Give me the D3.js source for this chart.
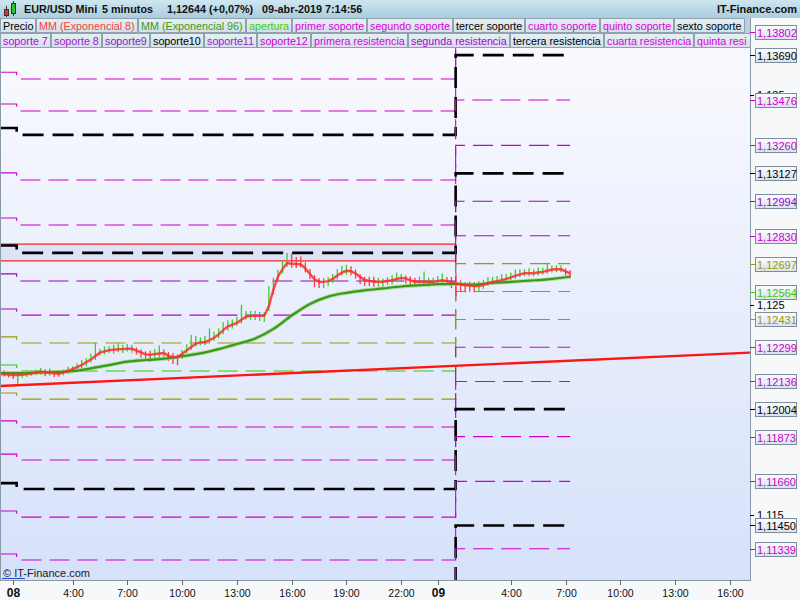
<!DOCTYPE html>
<html><head><meta charset="utf-8">
<script src="https://cdn.jsdelivr.net/npm/d3@7"></script>
<style>body{margin:0;background:#f6f8fa;}svg{display:block;font-family:"Liberation Sans",Arial,sans-serif;}</style>
</head><body><svg id="c" width="800" height="600"></svg>
<script>
// ---------------- DATA ----------------
const titleParts = ["EUR/USD Mini", "5 minutos", "1,12644 (+0,07%)", "09-abr-2019 7:14:56"];
const siteName = "IT-Finance.com";
const copyright = "© IT-Finance.com";

const legend1Names = ["Precio","MM (Exponencial 8)","MM (Exponencial 96)","apertura","primer soporte","segundo soporte","tercer soporte","cuarto soporte","quinto soporte","sexto soporte"];
const legend1Colors = ["#000000","#ff3c3c","#3c9a14","#44cc00","#dd00dd","#dd00dd","#000000","#dd00dd","#dd00dd","#000000"];
const legend2Names = ["soporte 7","soporte 8","soporte9","soporte10","soporte11","soporte12","primera resistencia","segunda resistencia","tercera resistencia","cuarta resistencia","quinta resistencia"];
const legend2Colors = ["#c000d8","#a020c8","#9020b8","#000000","#9a20c8","#cc00cc","#dd00dd","#b000d0","#000000","#dd00dd","#dd00dd"];

// time in hours from 08-abr 00:00; price bars every 15 minutes
const barStartHour = 0, barStepHours = 0.25;
const ema8 = [1.12171,1.12170,1.12169,1.12167,1.12167,1.12168,1.12171,1.12173,1.12179,1.12182,
1.12180,1.12178,1.12175,1.12172,1.12179,1.12187,1.12195,1.12204,1.12214,1.12227,
1.12240,1.12257,1.12273,1.12279,1.12285,1.12287,1.12289,1.12290,1.12292,1.12292,
1.12283,1.12274,1.12265,1.12263,1.12266,1.12269,1.12271,1.12258,1.12252,1.12251,
1.12267,1.12284,1.12300,1.12316,1.12322,1.12324,1.12332,1.12344,1.12360,1.12380,
1.12398,1.12407,1.12415,1.12430,1.12444,1.12448,1.12448,1.12448,1.12448,1.12495,
1.12573,1.12635,1.12671,1.12700,1.12696,1.12695,1.12693,1.12674,1.12648,1.12623,
1.12610,1.12610,1.12614,1.12624,1.12641,1.12654,1.12663,1.12661,1.12650,1.12633,
1.12620,1.12615,1.12611,1.12611,1.12611,1.12614,1.12618,1.12624,1.12629,1.12626,
1.12617,1.12611,1.12611,1.12611,1.12611,1.12611,1.12614,1.12618,1.12614,1.12609,
1.12603,1.12598,1.12594,1.12592,1.12590,1.12590,1.12596,1.12604,1.12610,1.12614,
1.12618,1.12624,1.12631,1.12639,1.12646,1.12651,1.12651,1.12651,1.12655,1.12658,
1.12663,1.12669,1.12670,1.12670,1.12660,1.12651];
// bar extent above / below in points (0.00001)
const upPts = [19,19,14,10,10,14,10,14,14,19, 14,19,10,14,14,19,14,19,24,19,
29,62,19,24,19,24,29,19,24,19, 14,14,14,19,24,38,19,19,19,14,
19,29,57,38,24,29,57,29,29,38, 29,24,29,71,29,24,24,19,19,95,
57,33,38,48,48,33,38,29,24,19, 19,19,19,24,29,33,29,24,19,14,
14,19,24,19,14,19,24,29,19,14, 19,19,24,48,19,19,24,33,19,24,
48,19,14,19,19,24,24,29,24,24, 29,24,24,29,24,19,24,19,24,19,
38,19,19,19,14,14];
const downPts = [14,10,14,19,48,14,14,10,14,14, 19,14,19,14,14,14,14,14,14,19,
14,19,14,14,14,19,14,19,14,19, 19,24,29,33,24,24,24,24,33,38,
24,14,14,14,14,14,14,14,19,19, 19,19,14,19,14,19,19,24,29,24,
24,24,19,19,19,19,14,19,24,38, 29,29,24,19,19,14,19,19,24,33,
29,24,24,24,24,19,19,14,19,24, 24,19,19,19,24,19,19,19,19,29,
62,33,33,29,29,24,19,14,14,14, 14,14,14,14,14,14,14,14,14,14,
14,14,14,14,19,24];
// EMA 96 hourly (hours 0..31) plus last bar 31.25
const ema96Hours = [0,1,2,3,4,5,6,7,8,9,10,11,12,13,14,15,16,17,18,19,20,21,22,23,24,25,26,27,28,29,30,31,31.25];
const ema96 = [1.12176,1.12176,1.12178,1.12180,1.12185,1.12198,1.12214,1.12230,1.12238,1.12244,
1.12256,1.12270,1.12290,1.12314,1.12340,1.12386,1.12450,1.12505,1.12540,1.12558,
1.12570,1.12579,1.12588,1.12594,1.12599,1.12600,1.12597,1.12605,1.12610,1.12616,
1.12622,1.12632,1.12635];

// support / resistance levels: values for 07, 08 and 09 April
const levelChangeHours = [0, 0.94, 24.98, 31.25];
const levelColors = ["#cc00cc","#cc00cc","#000000","#cc00cc","#cc00cc","#000000","#9900cc","#b000cc","#999900","#33cc00","#999900","#cc00cc","#cc00cc","#000000","#cc00cc","#cc00cc","#000000","#cc00cc"];
const labelColors = ["#cc00cc","#cc00cc","#000000","#cc00cc","#cc00cc","#000000","#9900cc","#cc00cc","#999900","#33cc00","#999900","#cc00cc","#cc00cc","#000000","#cc00cc","#cc00cc","#000000","#cc00cc"];
const levelDay7 = [1.13608,1.13457,1.13343,1.13129,1.12914,1.12783,1.12648,1.12481,1.12348,1.12214,1.12081,1.11948,1.11790,1.11652,1.11519,1.11314,1.11095,1.10986];
const levelDay8 = [1.13576,1.13424,1.13310,1.13095,1.12881,1.12748,1.12614,1.12452,1.12319,1.12186,1.12052,1.11919,1.11762,1.11624,1.11490,1.11286,1.11067,1.10957];
const levelDay9 = [1.13955,1.13802,1.13690,1.13476,1.13260,1.13127,1.12994,1.12830,1.12697,1.12564,1.12431,1.12299,1.12136,1.12004,1.11873,1.11660,1.11450,1.11339];

// previous-day range band and trend line
const bandHours = [0, 24.98];
const bandValues = [1.12710, 1.12790];
const trendHours = [0, 41.1];
const trendValues = [1.12114, 1.12273];

// axes
const xTickHours = [0.72, 4, 7, 10, 13, 16, 19, 22, 24, 28, 31, 34, 37, 40];
const xTickLabels = ["08","4:00","7:00","10:00","13:00","16:00","19:00","22:00","09","4:00","7:00","10:00","13:00","16:00"];
const xTickBold = [true,false,false,false,false,false,false,false,true,false,false,false,false,false];
const yTickValues = [1.115, 1.125, 1.135];

// ---------------- DRAW ----------------
const W = 800, H = 600;
const P = {l: 0, r: 750, t: 48, b: 580};
const x = d3.scaleLinear().domain([0, 41.1]).range([-0.5, 750]);
const y = d3.scaleLinear().domain([1.115, 1.135]).range([515, 95]);
const fmt5 = v => d3.format(".5f")(v).replace(".", ",");
const fmt3 = v => d3.format(".3f")(v).replace(".", ",");

const svg = d3.select("#c");
const defs = svg.append("defs");
function lg(id, stops) {
  const g = defs.append("linearGradient").attr("id", id).attr("x1", 0).attr("y1", 0).attr("x2", 0).attr("y2", 1);
  stops.forEach(([o, c]) => g.append("stop").attr("offset", o).attr("stop-color", c));
}
lg("gHead", [[0, "#cfe6f0"], [1, "#a9cddf"]]);
lg("gPlot", [[0, "#f9fafe"], [1, "#d6e1fa"]]);
lg("gChip", [[0, "#e6eff5"], [1, "#d2e0e9"]]);
lg("gBox", [[0, "#fbfcff"], [1, "#d8e1ee"]]);
defs.append("clipPath").attr("id", "clip").append("rect")
  .attr("x", P.l).attr("y", P.t).attr("width", P.r - P.l).attr("height", P.b - P.t);
defs.append("clipPath").attr("id", "legClip").append("rect")
  .attr("x", 0).attr("y", 18).attr("width", 750).attr("height", 31);

svg.append("rect").attr("width", W).attr("height", H).attr("fill", "#f6f8fa");
svg.append("rect").attr("x", P.l).attr("y", P.t).attr("width", P.r - P.l).attr("height", P.b - P.t).attr("fill", "url(#gPlot)");

const plotG = svg.append("g").attr("clip-path", "url(#clip)");

// band
plotG.append("rect")
  .attr("x", x(bandHours[0])).attr("y", y(bandValues[1]))
  .attr("width", x(bandHours[1]) - x(bandHours[0]))
  .attr("height", y(bandValues[0]) - y(bandValues[1]))
  .attr("fill", "#dbe3f8").attr("stroke", "#ff1a1a").attr("stroke-width", 1.2);

// levels
const stepLine = d3.line().x(d => x(d.h)).y(d => y(d.v)).curve(d3.curveStepAfter);
levelDay9.forEach((v9, i) => {
  const pts = [
    {h: levelChangeHours[0], v: levelDay7[i]},
    {h: levelChangeHours[1], v: levelDay8[i]},
    {h: levelChangeHours[2], v: v9},
    {h: levelChangeHours[3], v: v9}
  ];
  const thick = levelColors[i] === "#000000";
  plotG.append("path").attr("d", stepLine(pts)).attr("fill", "none")
    .attr("stroke", levelColors[i])
    .attr("stroke-width", thick ? 2.6 : 1.1)
    .attr("stroke-dasharray", thick ? "21,9" : "20,8");
});

// price bars
const barData = ema8.map((c, i) => ({
  h: barStartHour + i * barStepHours,
  hi: c + upPts[i] * 1e-5,
  lo: c - downPts[i] * 1e-5,
  up: i === 0 ? true : c >= ema8[i - 1]
}));
plotG.selectAll("line.bar").data(barData).enter().append("line")
  .attr("x1", d => x(d.h)).attr("x2", d => x(d.h))
  .attr("y1", d => y(d.hi)).attr("y2", d => y(d.lo))
  .attr("stroke", d => d.up ? "#3ccc2a" : "#ff3a3a").attr("stroke-width", 1.3);

// EMA 96
const e96 = ema96.map((v, i) => ({h: ema96Hours[i], v}));
const lineMono = d3.line().x(d => x(d.h)).y(d => y(d.v)).curve(d3.curveMonotoneX);
plotG.append("path").attr("d", lineMono(e96)).attr("fill", "none").attr("stroke", "#8fd070").attr("stroke-width", 4).attr("opacity", 0.6);
plotG.append("path").attr("d", lineMono(e96)).attr("fill", "none").attr("stroke", "#3a9a18").attr("stroke-width", 2.2);

// EMA 8
const e8 = ema8.map((v, i) => ({h: barStartHour + i * barStepHours, v}));
const lineLin = d3.line().x(d => x(d.h)).y(d => y(d.v));
plotG.append("path").attr("d", lineLin(e8)).attr("fill", "none").attr("stroke", "#ff2a2a").attr("stroke-width", 2.4).attr("opacity", 0.85);

// trend line
plotG.append("path").attr("d", lineLin(trendHours.map((h, i) => ({h, v: trendValues[i]}))))
  .attr("fill", "none").attr("stroke", "#ff1414").attr("stroke-width", 2.4);

// copyright
svg.append("text").attr("x", 3).attr("y", 577).attr("font-size", 11).attr("fill", "#222").text(copyright);
svg.append("line").attr("x1", 2).attr("x2", 25).attr("y1", 578.5).attr("y2", 578.5).attr("stroke", "#2244cc").attr("stroke-width", 1);

// borders
svg.append("line").attr("x1", 0.5).attr("x2", 0.5).attr("y1", P.t).attr("y2", P.b).attr("stroke", "#8898a6");
svg.append("line").attr("x1", 750.5).attr("x2", 750.5).attr("y1", 18).attr("y2", P.b + 0.5).attr("stroke", "#8898a6");
svg.append("line").attr("x1", 0).attr("x2", 751).attr("y1", P.b + 0.5).attr("y2", P.b + 0.5).attr("stroke", "#8898a6");

// x axis
xTickHours.forEach((h, i) => {
  const xx = Math.round(x(h)) + 0.5;
  svg.append("line").attr("x1", xx).attr("x2", xx).attr("y1", P.b).attr("y2", P.b + 5).attr("stroke", "#666");
  svg.append("text").attr("x", xx).attr("y", 597).attr("text-anchor", "middle")
    .attr("font-size", xTickBold[i] ? 12 : 10.5).attr("font-weight", xTickBold[i] ? "bold" : "normal")
    .attr("fill", "#111").text(xTickLabels[i]);
});

// y axis plain ticks
yTickValues.forEach(v => {
  const yy = Math.round(y(v)) + 0.5;
  svg.append("line").attr("x1", 750).attr("x2", 754).attr("y1", yy).attr("y2", yy).attr("stroke", "#000");
  svg.append("text").attr("x", 757).attr("y", yy + 3.5).attr("font-size", 11).attr("fill", "#000").text(fmt3(v));
});

// y axis value boxes for current levels
levelDay9.forEach((v, i) => {
  const yy = y(v);
  if (yy < 20 || yy > 590) return;
  const yr = Math.round(yy) + 0.5;
  svg.append("line").attr("x1", 750).attr("x2", 755).attr("y1", yr).attr("y2", yr).attr("stroke", labelColors[i]);
  svg.append("rect").attr("x", 755.5).attr("y", Math.round(yy) - 6.5).attr("width", 41).attr("height", 14)
    .attr("fill", "url(#gBox)").attr("stroke", "#7c8e9c");
  svg.append("text").attr("x", 757).attr("y", Math.round(yy) + 4.5).attr("font-size", 11).attr("fill", labelColors[i]).text(fmt5(v));
});

// header
svg.append("rect").attr("x", 0).attr("y", 0).attr("width", W).attr("height", 18).attr("fill", "url(#gHead)");
const icon = svg.append("g");
icon.append("line").attr("x1", 6.5).attr("x2", 6.5).attr("y1", 6).attr("y2", 17).attr("stroke", "#333");
icon.append("rect").attr("x", 4.5).attr("y", 9.5).attr("width", 4).attr("height", 6).attr("fill", "#e83030").attr("stroke", "#333");
icon.append("line").attr("x1", 13.5).attr("x2", 13.5).attr("y1", 1).attr("y2", 16).attr("stroke", "#333");
icon.append("rect").attr("x", 11.5).attr("y", 3.5).attr("width", 4).attr("height", 10).attr("fill", "#30c030").attr("stroke", "#333");
const titleX = [24, 102, 167, 262];
titleParts.forEach((t, i) => {
  svg.append("text").attr("x", titleX[i]).attr("y", 13).attr("font-size", 10.8).attr("font-weight", "bold").attr("fill", "#111").text(t);
});
svg.append("text").attr("x", 797).attr("y", 13).attr("text-anchor", "end").attr("font-size", 11).attr("font-weight", "bold").attr("fill", "#111").text(siteName);

// legend rows (last chip is cut at the axis edge, as in the original)
svg.append("rect").attr("x", 0).attr("y", 18).attr("width", 750).attr("height", 30).attr("fill", "#bcd0db");
const legG = svg.append("g").attr("clip-path", "url(#legClip)");
function drawRow(names, colors, yTop) {
  let cx = 0;
  names.forEach((n, i) => {
    const r = legG.append("rect").attr("x", cx + 0.5).attr("y", yTop + 0.5).attr("height", 14)
      .attr("fill", "url(#gChip)").attr("stroke", "#8fa2ae");
    const t = legG.append("text").attr("x", cx + 3).attr("y", yTop + 11.5).attr("font-size", 10.75).attr("fill", colors[i]).text(n);
    const full = Math.round(t.node().getComputedTextLength()) + 5;
    let s = n;
    while (s.length > 1 && cx + 3 + t.node().getComputedTextLength() > 750) {
      s = s.slice(0, -1);
      t.text(s);
    }
    r.attr("width", full);
    cx += full + 1;
  });
}
drawRow(legend1Names, legend1Colors, 18);
drawRow(legend2Names, legend2Colors, 33);
</script></body></html>
